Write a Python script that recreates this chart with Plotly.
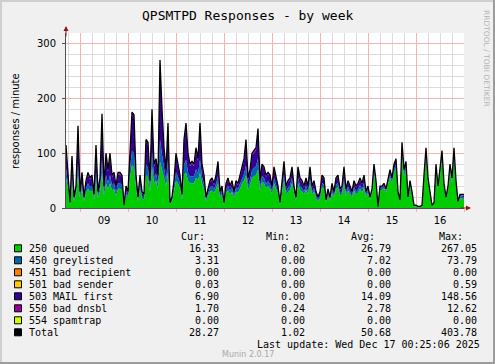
import pandas as pd
import plotly.graph_objects as go

# ---------------- data (hourly, from 2025-12-08 17:00) ----------------
start_time = "2025-12-08 17:00"
total = [115,70,10,95,20,40,150,30,65,20,
         50,65,55,60,25,115,30,55,172,40,
         100,70,100,60,65,40,65,65,60,5,
         40,30,115,175,170,60,20,60,30,25,
         125,120,50,180,80,90,60,270,180,110,
         70,155,10,20,50,100,80,60,25,125,
         155,100,80,85,80,110,90,155,80,60,
         20,35,50,55,45,60,85,30,40,10,
         45,55,40,50,30,50,45,60,75,90,
         125,55,70,100,105,110,145,50,80,75,
         60,65,60,40,75,60,40,10,50,85,
         40,50,55,75,40,20,75,55,50,40,
         55,40,75,40,50,30,20,30,60,55,
         15,35,20,45,30,55,60,35,40,75,
         35,50,40,30,50,40,45,55,45,60,
         30,40,20,35,80,50,3,40,40,45,
         35,55,70,55,80,90,30,15,120,70,
         85,20,50,30,5,5,3,3,5,60,
         110,55,30,5,10,80,40,70,105,45,
         20,40,80,55,110,50,12,25,25,25]
queued = [55,35,5,45,12,25,60,18,35,12,
          28,35,30,32,15,50,18,30,65,22,
          45,35,45,32,35,22,35,35,32,3,
          25,18,55,78,75,35,12,35,18,15,
          60,55,30,75,45,50,35,85,70,55,
          40,65,6,12,30,50,45,35,15,60,
          65,50,45,45,45,55,50,65,45,35,
          12,22,30,32,28,35,45,18,25,6,
          28,32,25,30,18,30,28,35,45,50,
          60,33,42,55,58,60,70,30,48,45,
          36,40,36,25,45,36,25,6,30,50,
          25,30,33,45,25,12,45,33,30,25,
          33,25,45,25,30,18,12,18,38,35,
          10,22,13,28,19,35,38,22,25,45,
          22,32,25,19,32,25,28,35,28,38,
          20,28,15,28,62,40,2,32,33,36,
          28,45,55,45,65,72,25,12,95,58,
          70,16,42,25,3,3,2,2,3,50,
          92,46,25,4,8,68,34,58,88,38,
          16,34,66,46,92,42,9,18,18,16]
greylisted = [17,10,2,14,3,6,22,4,10,3,
              8,10,8,9,4,17,4,8,25,6,
              15,10,15,9,10,6,10,10,9,1,
              6,4,17,26,25,9,3,9,4,4,
              19,18,8,27,12,13,9,40,27,16,
              10,23,2,3,8,15,12,9,4,19,
              23,15,12,13,12,16,13,23,12,9,
              3,5,8,8,7,9,13,4,6,2,
              7,8,6,8,4,8,7,9,10,12,
              18,7,9,14,15,16,21,7,11,10,
              8,9,8,5,10,8,5,2,7,12,
              5,7,8,10,5,3,10,8,7,5,
              8,5,10,5,7,4,3,4,8,7,
              2,5,3,6,4,7,8,5,5,10,
              5,7,5,4,7,5,6,7,6,8,
              4,5,2,3,7,4,0,3,3,4,
              3,4,6,4,6,7,2,1,9,5,
              6,2,3,2,1,1,0,0,1,4,
              7,4,2,0,1,5,3,5,7,3,
              2,3,6,4,7,3,1,3,3,3]
bad_dnsbl = [5,4,1,4,2,3,5,2,4,2, 3,4,3,4,2,5,2,3,6,3,
             4,4,4,3,4,3,4,4,3,1, 3,2,5,6,6,3,2,3,2,2,
             5,5,3,6,4,4,3,8,6,5, 4,5,1,2,3,4,4,3,2,5,
             5,4,4,4,4,4,4,5,4,3, 2,3,3,3,3,3,4,2,3,1,
             3,3,3,3,2,3,3,3,3,4, 4,3,3,4,4,4,5,3,3,3,
             3,3,3,2,3,3,2,1,3,3, 2,3,3,3,2,2,3,3,3,2,
             3,2,3,2,3,2,2,2,3,3, 1,2,2,2,2,3,3,2,2,3,
             2,3,2,2,3,2,2,3,2,3, 2,2,2,2,3,2,0,2,2,2,
             2,2,3,2,3,3,2,1,4,3, 3,1,2,2,1,1,0,0,1,2,
             3,2,2,1,1,3,2,2,3,2, 1,2,3,2,3,2,1,2,2,2]
zeros = [0] * len(total)
mail_first = [max(t - q - g - d, 0) for t, q, g, d in zip(total, queued, greylisted, bad_dnsbl)]

series_names = ["250 queued", "450 greylisted", "451 bad recipient", "501 bad sender",
                "503 MAIL first", "550 bad dnsbl", "554 spamtrap", "Total"]
series_colors = ["#00CC00", "#0066B3", "#FF8000", "#FFCC00",
                 "#330099", "#990099", "#CCFF00", "#000000"]
cur_vals = ["16.33", "3.31", "0.00", "0.03", "6.90", "1.70", "0.00", "28.27"]
min_vals = ["0.02", "0.00", "0.00", "0.00", "0.00", "0.24", "0.00", "1.02"]
avg_vals = ["26.79", "7.02", "0.00", "0.00", "14.09", "2.78", "0.00", "50.68"]
max_vals = ["267.05", "73.79", "0.00", "0.59", "148.56", "12.62", "0.00", "403.78"]

title_text = "QPSMTPD Responses - by week"
y_title = "responses / minute"
last_update = "Last update: Wed Dec 17 00:25:06 2025"
version_text = "Munin 2.0.17"
side_text = "RRDTOOL / TOBI OETIKER"

times = pd.date_range(start_time, periods=len(total), freq="h")

# ---------------- figure geometry ----------------
W, H = 495, 364
L, R, T, B = 66, 464, 33, 208
PW, PH = R - L, B - T


def px(x):
    return (x - L) / PW


def py(y):
    return (B - y) / PH


mono = "DejaVu Sans Mono"
sans = "DejaVu Sans"

fig = go.Figure()
stack_series = [queued, greylisted, zeros, zeros, mail_first, bad_dnsbl, zeros]
for name, vals, col in zip(series_names[:7], stack_series, series_colors[:7]):
    fig.add_trace(go.Scatter(x=times, y=vals, name=name, mode="lines",
                             stackgroup="s", line=dict(width=0, color=col),
                             fillcolor=col, hoverinfo="skip"))
fig.add_trace(go.Scatter(x=times, y=total, name="Total", mode="lines",
                         line=dict(width=1.3, color="#000000")))

fig.update_layout(
    width=W, height=H, showlegend=False,
    paper_bgcolor="#F0F0F0", plot_bgcolor="#FFFFFF",
    margin=dict(l=L, r=W - R, t=T, b=H - B, pad=0),
)
fig.update_xaxes(
    type="date", range=[times[0], times[-1]],
    dtick=86400000, tick0="2025-12-09", tickformat="%d", ticklabelmode="period",
    showgrid=True, gridcolor="#F2B3B3", gridwidth=1,
    minor=dict(dtick=6 * 3600000, tick0="2025-12-09", showgrid=True, gridcolor="#DCDCDC"),
    showline=True, linecolor="#505050", linewidth=1,
    ticks="outside", ticklen=3, tickcolor="#F2B3B3",
    tickfont=dict(family=sans, size=10, color="#000000"),
    zeroline=False, fixedrange=True,
)
fig.update_yaxes(
    range=[0, PH / 0.548], dtick=100, tick0=0,
    showgrid=True, gridcolor="#F2B3B3", gridwidth=1,
    minor=dict(dtick=20, showgrid=True, gridcolor="#DCDCDC"),
    showline=True, linecolor="#505050", linewidth=1,
    ticks="outside", ticklen=3, tickcolor="#505050",
    ticklabelstandoff=4,
    tickfont=dict(family=sans, size=10, color="#000000"),
    zeroline=False, fixedrange=True,
)

ann = []
shapes = []
# title
ann.append(dict(x=px(247.5), y=py(16), xref="paper", yref="paper", text=title_text,
                showarrow=False, xanchor="center", yanchor="middle",
                font=dict(family=mono, size=13, color="#000000")))
# y title
ann.append(dict(x=px(15), y=py(121), xref="paper", yref="paper", text=y_title,
                showarrow=False, xanchor="center", yanchor="middle", textangle=-90,
                font=dict(family=sans, size=10, color="#000000")))
# side text
ann.append(dict(x=px(487), y=py(58), xref="paper", yref="paper", text=side_text,
                showarrow=False, xanchor="center", yanchor="middle", textangle=90,
                font=dict(family=sans, size=7.5, color="#B4B4B4")))
# arrows
ann.append(dict(x=px(471), y=0, xref="paper", yref="paper", ax=-12, ay=0, text="",
                showarrow=True, arrowhead=2, arrowsize=1, arrowwidth=1, arrowcolor="#8B1A1A"))
ann.append(dict(x=0, y=py(26), xref="paper", yref="paper", ax=0, ay=12, text="",
                showarrow=True, arrowhead=2, arrowsize=1, arrowwidth=1, arrowcolor="#8B1A1A"))

lf = dict(family=mono, size=10, color="#000000")
headers = [("Cur:", 207), ("Min:", 292), ("Avg:", 377), ("Max:", 465)]
for h, xr in headers:
    ann.append(dict(x=px(xr), y=py(236.7), xref="paper", yref="paper", text=h,
                    showarrow=False, xanchor="right", yanchor="middle", font=lf))
for i, name in enumerate(series_names):
    yy = 248.3 + 12 * i
    shapes.append(dict(type="rect", xref="paper", yref="paper",
                       x0=px(14.5), x1=px(21.5), y0=py(yy - 3.5), y1=py(yy + 3.5),
                       fillcolor=series_colors[i], line=dict(color="#000000", width=1)))
    ann.append(dict(x=px(27), y=py(yy), xref="paper", yref="paper", text=name,
                    showarrow=False, xanchor="left", yanchor="middle", font=lf))
    for vals, xr in ((cur_vals, 220.5), (min_vals, 306.5), (avg_vals, 392.5), (max_vals, 478.5)):
        ann.append(dict(x=px(xr), y=py(yy), xref="paper", yref="paper", text=vals[i],
                        showarrow=False, xanchor="right", yanchor="middle", font=lf))
ann.append(dict(x=px(481.5), y=py(344.3), xref="paper", yref="paper", text=last_update,
                showarrow=False, xanchor="right", yanchor="middle", font=lf))
ann.append(dict(x=px(248), y=py(354.5), xref="paper", yref="paper", text=version_text,
                showarrow=False, xanchor="center", yanchor="middle",
                font=dict(family=sans, size=8, color="#A8A8A8")))

# frame edges
shapes.append(dict(type="line", xref="paper", yref="paper", x0=px(0), x1=px(495),
                   y0=py(1), y1=py(1), line=dict(color="#CFCFCF", width=2)))
shapes.append(dict(type="line", xref="paper", yref="paper", x0=px(1), x1=px(1),
                   y0=py(0), y1=py(364), line=dict(color="#CFCFCF", width=2)))
shapes.append(dict(type="line", xref="paper", yref="paper", x0=px(0), x1=px(495),
                   y0=py(363), y1=py(363), line=dict(color="#9C9C9C", width=2)))
shapes.append(dict(type="line", xref="paper", yref="paper", x0=px(494), x1=px(494),
                   y0=py(0), y1=py(364), line=dict(color="#9C9C9C", width=2)))

fig.update_layout(annotations=ann, shapes=shapes)
fig.write_html(
    "out.html",
    config={"displayModeBar": False},
    post_script="document.body.style.margin='0';document.body.style.padding='0';"
                "document.body.style.overflow='hidden';",
)
